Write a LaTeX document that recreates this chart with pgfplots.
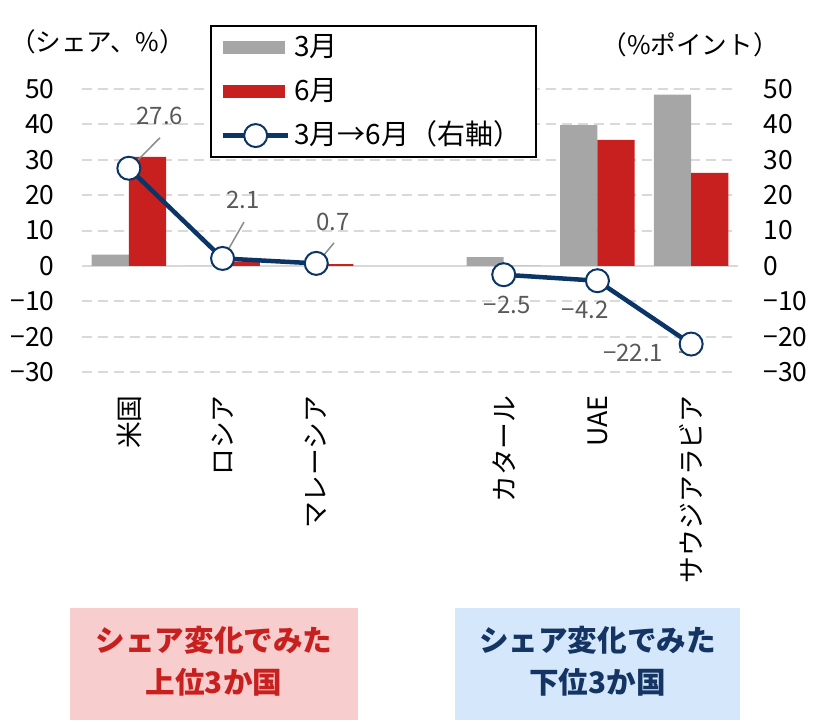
\documentclass[border=0pt]{standalone}
\usepackage{fontspec}
\setmainfont{Noto Sans CJK JP}
\usepackage{pgfplots}
\usepackage{pgfplotstable}
\pgfplotsset{compat=1.18}

\definecolor{barGray}{HTML}{A6A6A6}
\definecolor{barRed}{HTML}{C8201E}
\definecolor{lineNavy}{HTML}{0B3566}
\definecolor{labGray}{HTML}{595959}
\definecolor{gridGray}{HTML}{D9D9D9}
\definecolor{boxPink}{HTML}{F8CDCE}
\definecolor{boxBlue}{HTML}{D5E8FB}
\definecolor{txtNavy}{HTML}{143463}

% share (%) in March and June
\pgfplotstableread{
x mar jun
0 3.2 30.8
1 0.0 1.2
2 0.0 0.5
4 2.5 0.0
5 39.8 35.6
6 48.4 26.3
}\sharetable

% change Mar -> Jun (%pt), gap at x=3
\pgfplotstableread{
x chg
0 27.6
1 2.1
2 0.7
3 nan
4 -2.5
5 -4.2
6 -22.1
}\chgtable

\pgfplotsset{
  base/.style={
    at={(41pt,175pt)}, anchor=south west,
    scale only axis, width=328pt, height=141.5pt,
    xmin=-0.5, xmax=6.5, ymin=-30, ymax=50,
    axis line style={draw=none}, major tick length=0pt,
    ytick={-30,-20,...,50},
    yticklabels={−30,−20,−10,0,10,20,30,40,50},
    /pgf/number format/assume math mode=true,
  },
  lineStyle/.style={draw=lineNavy, line width=2.25pt, mark=*,
    mark size=5.75pt, mark options={fill=white, draw=lineNavy, line width=1pt}},
  grayLegend/.style={legend image code/.code={\fill[barGray] (0pt,-3.25pt) rectangle (31pt,3.25pt);}},
  redLegend/.style={legend image code/.code={\fill[barRed] (0pt,-3.25pt) rectangle (31pt,3.25pt);}},
  lineLegend/.style={legend image code/.code={
      \draw[draw=lineNavy, line width=2.25pt] (0pt,0pt) -- (32.5pt,0pt);
      \draw[draw=lineNavy, fill=white, line width=1pt] (16.25pt,0pt) circle (5.75pt);}},
}
\tikzset{dlabel/.style={font=\fontsize{12}{13}\selectfont, text=labGray}}

\begin{document}
\begin{tikzpicture}
\begin{axis}[base,
    ybar=0pt, bar width=18.6pt,
    xtick={0,1,2,4,5,6},
    xticklabels={米国,ロシア,マレーシア,カタール,UAE,サウジアラビア},
    xticklabel style={yshift=-11.5pt, rotate=90, anchor=east, inner sep=0pt,
      font=\fontsize{13.4}{14}\selectfont},
    yticklabel style={anchor=east, inner sep=0pt, xshift=-13.5pt,
      font=\fontsize{13.2}{14}\selectfont},
    ymajorgrids, grid style={gridGray, line width=1pt, dash pattern=on 5pt off 3pt},
    extra y ticks={0}, extra y tick labels={},
    extra y tick style={grid style={gridGray, line width=1pt, solid}},
    legend cell align=left,
    legend style={at={(0.195,1.226)}, anchor=north west, draw=black, line width=1pt,
      font=\fontsize{14}{15}\selectfont, inner xsep=5pt, inner ysep=2.5pt,
      row sep=5.5pt, nodes={inner sep=2pt, text height=10.5pt, text depth=2pt}},
  ]
  \addplot[fill=barGray, draw=none, grayLegend] table[x=x, y=mar] {\sharetable};
  \addlegendentry{3月}
  \addplot[fill=barRed, draw=none, redLegend] table[x=x, y=jun] {\sharetable};
  \addlegendentry{6月}
  \addlegendimage{lineLegend}
  \addlegendentry{3月→6月（右軸）}
\end{axis}

\begin{axis}[base,
    xtick=\empty,
    yticklabel pos=right,
    yticklabel style={anchor=west, inner sep=0pt, xshift=12.5pt,
      font=\fontsize{13.2}{14}\selectfont},
    clip=false,
  ]
  \addplot[lineStyle, unbounded coords=jump] table[x=x, y=chg] {\chgtable};
  \draw[labGray!70, line width=0.75pt] (axis cs:0.332,36.2) -- (axis cs:0.023,28.0);
  \draw[labGray!70, line width=0.75pt] (axis cs:1.229,12.4) -- (axis cs:1.015,2.5);
  \draw[labGray!70, line width=0.75pt] (axis cs:2.189,6.5) -- (axis cs:2.019,1.1);
  \draw[labGray!70, line width=0.75pt] (axis cs:5.87,-24.3) -- (axis cs:5.99,-24.3) -- (axis cs:5.99,-22.8);
  \node[dlabel] at (axis cs:0.332,42.4) {27.6};
  \node[dlabel] at (axis cs:1.218,18.6) {2.1};
  \node[dlabel] at (axis cs:2.179,12.4) {0.7};
  \node[dlabel] at (axis cs:4.036,-11.0) {−2.5};
  \node[dlabel] at (axis cs:4.868,-12.4) {−4.2};
  \node[dlabel] at (axis cs:5.38,-24.6) {−22.1};
\end{axis}

\node[font=\fontsize{12.8}{13}\selectfont] at (48.75pt,340pt) {（シェア、\%）};
\node[font=\fontsize{12.8}{13}\selectfont] at (345pt,338.5pt) {（\%ポイント）};

\fill[boxPink] (35pt,1pt) rectangle (179pt,57pt);
\fill[boxBlue] (227.5pt,1pt) rectangle (370pt,57pt);
\node[font=\fontsize{14.8}{16}\selectfont\bfseries, text=barRed] at (107pt,41pt) {シェア変化でみた};
\node[font=\fontsize{14.8}{16}\selectfont\bfseries, text=barRed] at (107pt,20pt) {上位3か国};
\node[font=\fontsize{14.8}{16}\selectfont\bfseries, text=txtNavy] at (298.75pt,41pt) {シェア変化でみた};
\node[font=\fontsize{14.8}{16}\selectfont\bfseries, text=txtNavy] at (298.75pt,20pt) {下位3か国};

\pgfresetboundingbox
\useasboundingbox (0pt,0pt) rectangle (409pt,361pt);
\end{tikzpicture}
\end{document}
